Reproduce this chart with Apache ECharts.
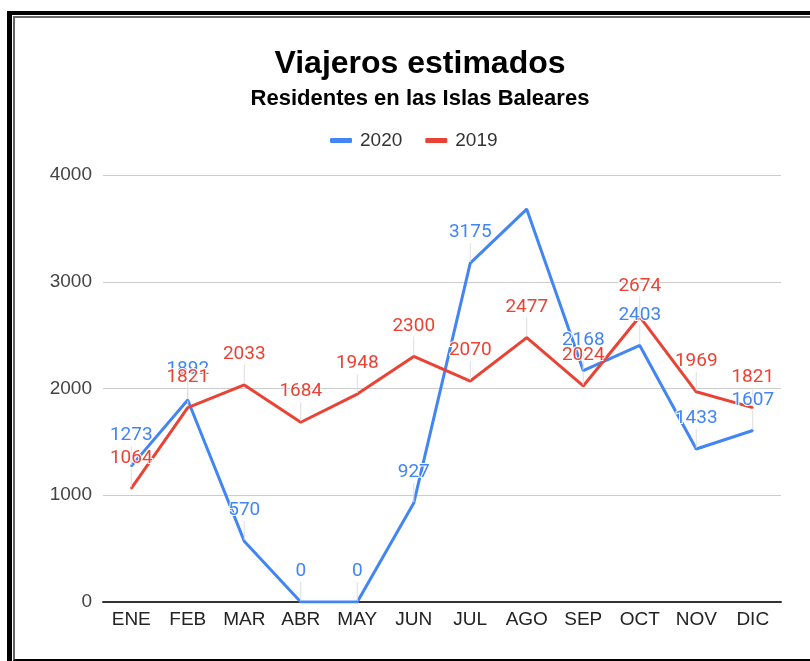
<!DOCTYPE html>
<html style="height: 100%">
<head>
<meta charset="utf-8">
<style>
  body { margin: 0; background: #fff; }
  #container { position: absolute; left: 0; top: 0; width: 810px; height: 661px; }
  .frame1 { position: absolute; left: 7px; top: 11px; width: 900px; height: 700px;
            border-left: 5px solid #000; border-top: 4px solid #000; pointer-events: none; }
  .frame2 { position: absolute; left: 13px; top: 16px; width: 900px; height: 641px;
            border-left: 2px solid #666; border-top: 2px solid #666; border-bottom: 2px solid #000; pointer-events: none; }
</style>
</head>
<body>
<div id="container"></div>
<div class="frame1"></div>
<div class="frame2"></div>
<script src="https://cdn.jsdelivr.net/npm/echarts@6/dist/echarts.min.js"></script>
<script>
var months = ['ENE', 'FEB', 'MAR', 'ABR', 'MAY', 'JUN', 'JUL', 'AGO', 'SEP', 'OCT', 'NOV', 'DIC'];
var v2020 = [1273, 1892, 570, 0, 0, 927, 3175, 3680, 2168, 2403, 1433, 1607];
var v2019 = [1064, 1821, 2033, 1684, 1948, 2300, 2070, 2477, 2024, 2674, 1969, 1821];
var noLabel2020 = ['AGO'];   // google chart dropped this annotation

var blue = '#4285f4';
var red = '#ea4335';

function mkData(vals, hidden) {
    return vals.map(function (v, i) {
        if (hidden && hidden.indexOf(months[i]) > -1) {
            return { value: v, label: { show: false }, labelLine: { show: false } };
        }
        return v;
    });
}

function mkSeries(name, vals, color, hidden) {
    return {
        name: name,
        type: 'line',
        data: mkData(vals, hidden),
        symbol: 'circle',
        symbolSize: 2,
        showSymbol: true,
        lineStyle: { color: color, width: 3 },
        itemStyle: { color: color },
        label: {
            show: true,
            position: 'top',
            distance: 0,
            color: color,
            fontSize: 19,
            fontFamily: 'Roboto, Arial, sans-serif',
            textBorderColor: '#fff',
            textBorderWidth: 2
        },
        labelLine: { show: true, lineStyle: { color: '#ddd', width: 1 } },
        labelLayout: { dy: -20 }
    };
}

var chart = echarts.init(document.getElementById('container'));
var option = {
    animation: false,
    title: [{
        text: 'Viajeros estimados',
        left: 415, top: 43, textAlign: 'center',
        textStyle: { fontSize: 32, fontWeight: 'bold', color: '#000', fontFamily: 'Arial, sans-serif' }
    }, {
        text: 'Residentes en las Islas Baleares',
        left: 415, top: 83, textAlign: 'center',
        textStyle: { fontSize: 22, fontWeight: 'bold', color: '#000', fontFamily: 'Arial, sans-serif' }
    }],
    legend: {
        data: ['2020', '2019'],
        left: 325, top: 126,
        itemWidth: 22, itemHeight: 5, itemGap: 23,
        icon: 'roundRect',
        textStyle: { fontSize: 19, color: '#333', fontFamily: 'Arial, sans-serif', padding: [0, 0, 0, 3] }
    },
    grid: { left: 103, right: 29, top: 175, bottom: 59 },
    xAxis: {
        type: 'category',
        data: months,
        boundaryGap: true,
        axisLine: { lineStyle: { color: '#333', width: 2 } },
        axisTick: { show: false },
        axisLabel: { color: '#222', fontSize: 19, margin: 8, fontFamily: 'Arial, sans-serif' }
    },
    yAxis: {
        type: 'value',
        min: 0, max: 4000, interval: 1000,
        axisLine: { show: false },
        axisTick: { show: false },
        splitLine: { lineStyle: { color: '#ccc', width: 1 } },
        axisLabel: {
            color: '#444', fontSize: 19, margin: 11, fontFamily: 'Arial, sans-serif',
            formatter: function (v) { return String(v); }
        }
    },
    series: [
        mkSeries('2020', v2020, blue, noLabel2020),
        mkSeries('2019', v2019, red)
    ]
};
chart.setOption(option);
</script>
</body>
</html>
